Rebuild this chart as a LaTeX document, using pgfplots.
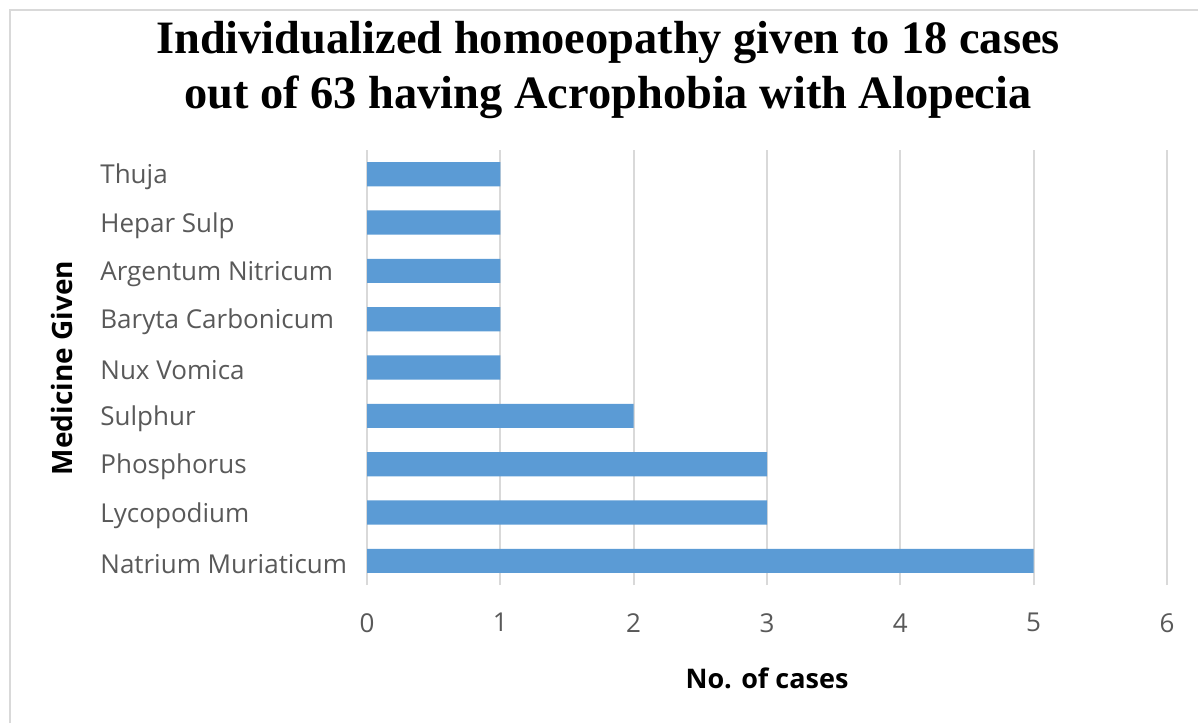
\documentclass[border=0pt]{standalone}
\usepackage{pgfplots}
\pgfplotsset{compat=1.18}
\usepackage{fontspec}
\setmainfont{Open Sans}
\newfontfamily\titlefont{Liberation Serif}
\definecolor{barblue}{HTML}{5B9BD5}
\definecolor{gridgray}{HTML}{D9D9D9}
\definecolor{ticktext}{HTML}{595959}
\definecolor{framegray}{HTML}{D9D9D9}
\begin{document}
\begin{tikzpicture}
\useasboundingbox (0,0) rectangle (599pt,-361.5pt);
\draw[framegray, line width=1pt] (5pt,-361.5pt) -- (5pt,-5pt) -- (599pt,-5pt);
\begin{axis}[
  at={(183.5pt,-292.5pt)}, anchor=south west,
  scale only axis, width=400pt, height=217.5pt,
  xbar, bar width=0.5,
  xmin=0, xmax=6, ymin=-0.5, ymax=8.5,
  xtick={0,1,2,3,4,5,6},
  ytick={0,...,8},
  yticklabels={Natrium Muriaticum,Lycopodium,Phosphorus,Sulphur,Nux Vomica,Baryta Carbonicum,Argentum Nitricum,Hepar Sulp,Thuja},
  axis line style={draw=none},
  major tick length=0pt,
  xmajorgrids, major grid style={gridgray, line width=1pt},
  /pgf/number format/assume math mode=true,
  ticklabel style={font=\fontsize{13pt}{15pt}\selectfont, text=ticktext},
  xticklabel style={anchor=north, inner sep=0pt, yshift=-14pt},
  yticklabel style={anchor=west, inner sep=0pt, xshift=-133.5pt, yshift=-1.5pt},
  clip=false,
]
\addplot[fill=barblue, draw=none] coordinates {(5,0) (3,1) (3,2) (2,3) (1,4) (1,5) (1,6) (1,7) (1,8)};
\end{axis}
\node[align=center, font=\titlefont\bfseries\fontsize{23.2pt}{27.5pt}\selectfont] at (304pt,-35pt) {Individualized homoeopathy given to 18 cases\\out of 63 having Acrophobia with Alopecia};
\node[rotate=90, font=\bfseries\fontsize{14pt}{16pt}\selectfont] at (31pt,-184pt) {Medicine Given};
\node[font=\bfseries\fontsize{13.5pt}{16pt}\selectfont] at (383.5pt,-339pt) {No. of cases};
\end{tikzpicture}
\end{document}
